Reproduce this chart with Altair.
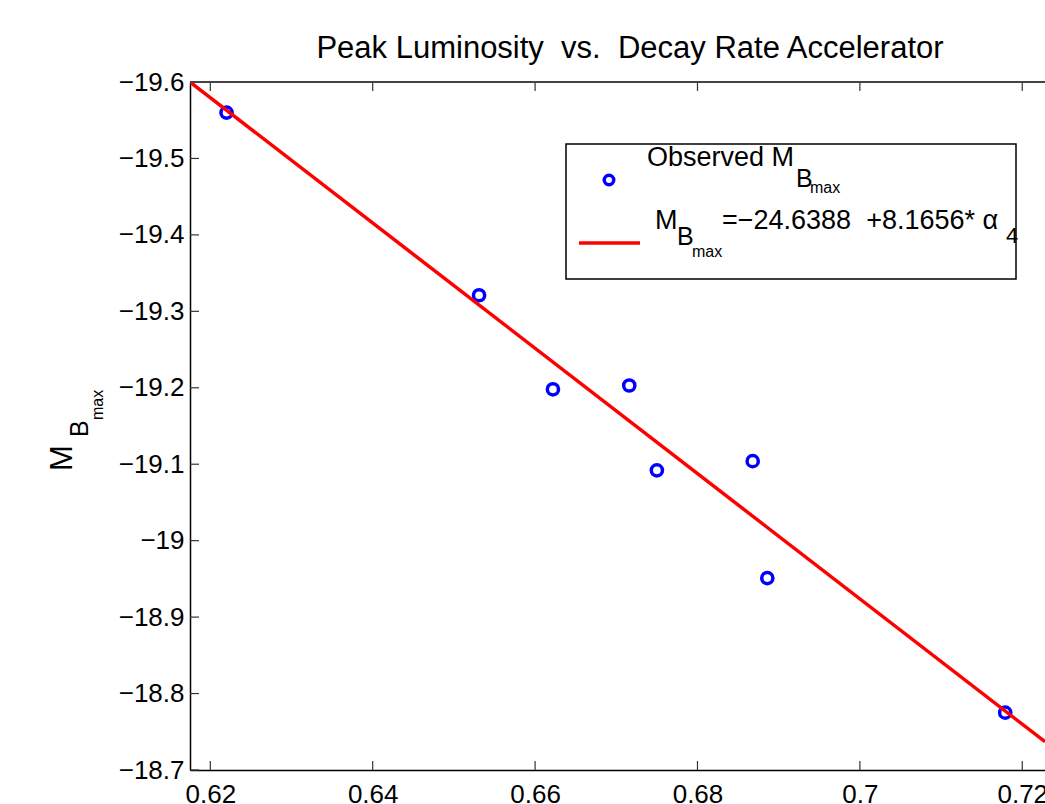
import altair as alt
import pandas as pd

# ---- data ----
alpha4 = [0.6220, 0.6531, 0.6622, 0.6716, 0.6750, 0.6868, 0.6886, 0.7179]
mbmax = [-19.560, -19.321, -19.198, -19.203, -19.092, -19.104, -18.951, -18.775]

fit_x = [0.6175, 0.7228]
fit_y = [-19.600, -18.737]

x_ticks = [0.62, 0.64, 0.66, 0.68, 0.70, 0.72]
y_ticks = [-19.6, -19.5, -19.4, -19.3, -19.2, -19.1, -19.0, -18.9, -18.8, -18.7]

NB = "\u00a0"
title_text = f"Peak Luminosity{NB}{NB}vs.{NB}{NB}Decay Rate Accelerator"

pts = pd.DataFrame({"a": alpha4, "m": mbmax})
fit = pd.DataFrame({"a": fit_x, "m": fit_y})
xt = pd.DataFrame({"a": x_ticks})
yt = pd.DataFrame({"m": y_ticks})

W, H = 855, 688
FONT = "Liberation Sans"

xs = alt.Scale(domain=[0.6175, 0.7228], nice=False, zero=False)
ys = alt.Scale(domain=[-19.6, -18.7], nice=False, zero=False, reverse=True)

x_axis = alt.Axis(values=x_ticks, format=".2~f", ticks=False, grid=False,
                  domainColor="black", domainWidth=1.5, labelPadding=11,
                  labelFontSize=26, labelFont=FONT, labelColor="black",
                  title=None, labelFlush=False)
y_axis = alt.Axis(values=y_ticks, format=".1~f", ticks=False, grid=False,
                  domainColor="black", domainWidth=1.5, labelPadding=6,
                  labelFontSize=26, labelFont=FONT, labelColor="black",
                  title=None, labelFlush=False)

base_pts = alt.Chart(pts).mark_point(
    shape="circle", filled=False, color="#0000ff", strokeWidth=3.5, size=125, opacity=1
).encode(
    x=alt.X("a:Q", scale=xs, axis=x_axis),
    y=alt.Y("m:Q", scale=ys, axis=y_axis),
)

line = alt.Chart(fit).mark_line(color="#ff0000", strokeWidth=3.5, clip=True).encode(
    x=alt.X("a:Q", scale=xs),
    y=alt.Y("m:Q", scale=ys),
)

TICK = "#333333"
left_ticks = alt.Chart(yt).mark_rule(color=TICK, strokeWidth=1.2).encode(
    y=alt.Y("m:Q", scale=ys), x=alt.value(0), x2=alt.value(9)
)
bottom_ticks = alt.Chart(xt).mark_rule(color=TICK, strokeWidth=1.2).encode(
    x=alt.X("a:Q", scale=xs), y=alt.value(H), y2=alt.value(H - 9)
)
top_ticks = alt.Chart(xt).mark_rule(color=TICK, strokeWidth=1.2).encode(
    x=alt.X("a:Q", scale=xs), y=alt.value(0), y2=alt.value(9)
)
top_border = alt.Chart(xt).mark_rule(color="#444444", strokeWidth=1.8).encode(
    x=alt.value(0), x2=alt.value(W), y=alt.value(0)
)

one = pd.DataFrame({"k": [0]})


def txt(text, x, y, size, angle=0, baseline="alphabetic", align="left"):
    kw = dict(text=text, font=FONT, fontSize=size, color="black",
              align=align, baseline=baseline)
    if angle:
        kw["angle"] = angle
    return alt.Chart(one).mark_text(**kw).encode(x=alt.value(x), y=alt.value(y))


title = txt(title_text, 440, -24, 31, align="center")

ylab = (txt("M", -118, 389, 31, angle=270)
        + txt("B", -102, 355, 25, angle=270)
        + txt("max", -87, 338, 16, angle=270))

# legend (manual, positions in plot-area pixels)
legend_box = alt.Chart(one).mark_rect(fill="white", stroke="black", strokeWidth=1.5).encode(
    x=alt.value(376), x2=alt.value(826), y=alt.value(62), y2=alt.value(197)
)
legend_pt = alt.Chart(one).mark_point(
    shape="circle", filled=False, color="#0000ff", strokeWidth=3.5, size=90, opacity=1
).encode(x=alt.value(419), y=alt.value(98))
legend_line = alt.Chart(one).mark_rule(color="#ff0000", strokeWidth=3.5).encode(
    x=alt.value(389), x2=alt.value(450), y=alt.value(161)
)
legend_text = (
    txt("Observed M", 457, 84, 27)
    + txt("B", 606, 105, 25)
    + txt("max", 620, 111, 16)
    + txt("M", 465, 147, 27)
    + txt("B", 487, 163, 25)
    + txt("max", 502, 175, 16)
    + txt(f"=\u221224.6388{NB}{NB}+8.1656*{NB}\u03b1", 532, 147, 27)
    + txt("4", 816, 161, 22)
)

chart = alt.layer(
    base_pts, line, left_ticks, bottom_ticks, top_ticks, top_border,
    title, ylab, legend_box, legend_pt, legend_line, legend_text,
).properties(
    width=W, height=H,
    autosize=alt.AutoSizeParams(type="none"),
    padding={"left": 190, "top": 82, "right": 0, "bottom": 34},
    background="white",
).configure_view(strokeWidth=0)

chart.save("out.html", embed_options={"renderer": "svg", "actions": False})
